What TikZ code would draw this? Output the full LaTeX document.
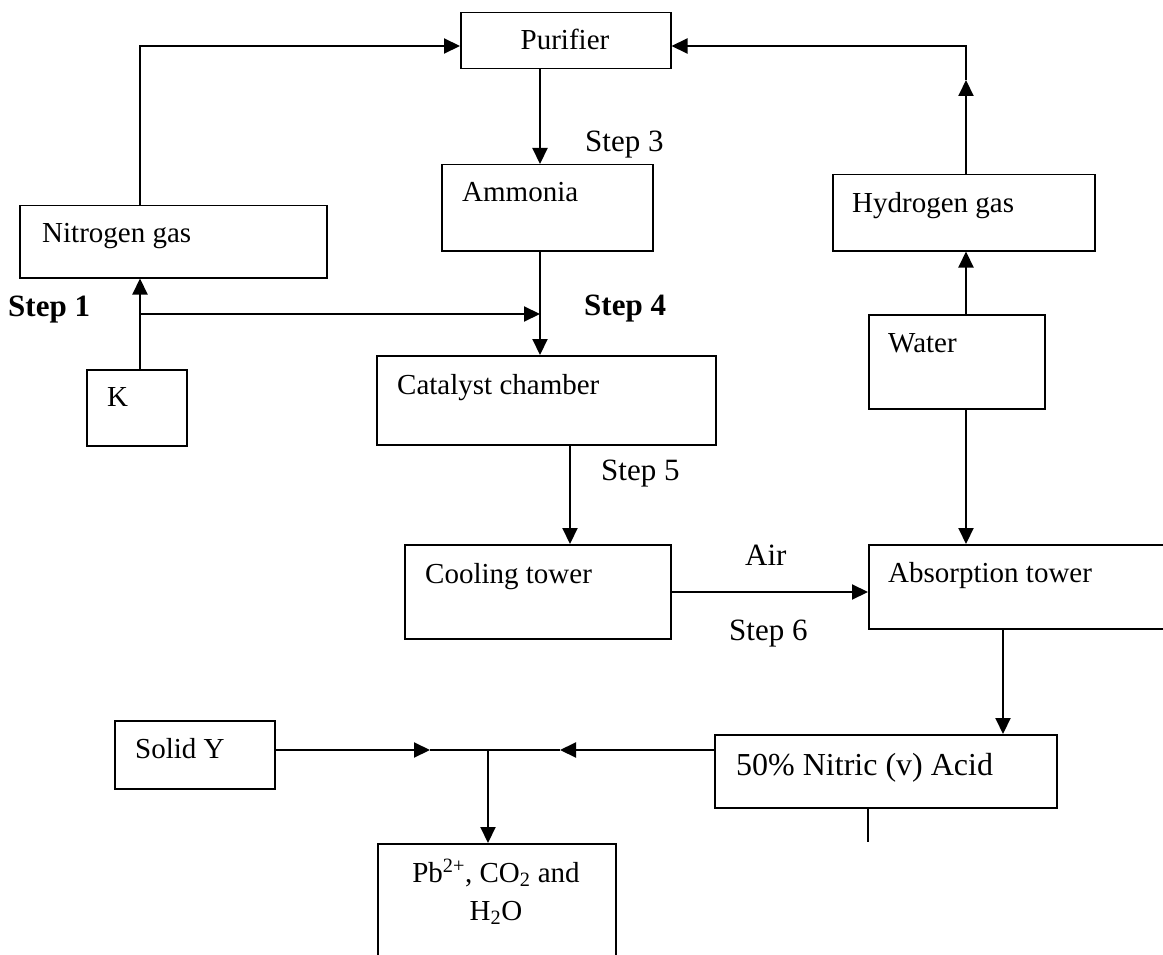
\documentclass[tikz,border=0pt]{standalone}
\usepackage{fontspec}
\setmainfont{Liberation Serif}
\usetikzlibrary{arrows.meta}
\tikzset{
  box/.style={draw, line width=1.5pt, rectangle, inner sep=0pt, anchor=north west},
  conn/.style={line width=2.1pt},
  arr/.style={conn, -{Triangle[length=16pt,width=15pt]}},
  lbl/.style={inner sep=0pt, anchor=base west, font=\fontsize{29}{34}\selectfont},
  steplbl/.style={inner sep=0pt, anchor=base west, font=\fontsize{31}{36}\selectfont},
  boldstep/.style={steplbl, font=\fontsize{31}{36}\selectfont\bfseries},
}
\begin{document}
\begin{tikzpicture}[x=1pt,y=-1pt]
\clip (0,0) rectangle (1163,955);
\fill[white] (0,0) rectangle (1163,955);
% boxes
\node[box, minimum width=210pt, minimum height=56pt] (pur) at (460,12) {};
\node[box, minimum width=211pt, minimum height=86pt] (amm) at (441,164) {};
\node[box, minimum width=307pt, minimum height=72pt] (nit) at (19,205) {};
\node[box, minimum width=262pt, minimum height=76pt] (hyd) at (832,174) {};
\node[box, minimum width=176pt, minimum height=94pt] (wat) at (868,314) {};
\node[box, minimum width=100pt, minimum height=76pt] (kbox) at (86,369) {};
\node[box, minimum width=339pt, minimum height=89pt] (cat) at (376,355) {};
\node[box, minimum width=266pt, minimum height=94pt] (cool) at (404,544) {};
\node[box, minimum width=320pt, minimum height=84pt] (abs) at (868,544) {};
\node[box, minimum width=342pt, minimum height=73pt] (nitr) at (714,734) {};
\node[box, minimum width=160pt, minimum height=68pt] (sol) at (114,720) {};
\node[box, minimum width=238pt, minimum height=140pt] (pb) at (377,843) {};
% box texts
\node[lbl, anchor=base] (purT) at (565,50) {Purifier};
\node[lbl] (ammT) at (462,202) {Ammonia};
\node[lbl] (nitT) at (42,242) {Nitrogen gas};
\node[lbl] (hydT) at (852,212) {Hydrogen gas};
\node[lbl] (watT) at (888,352) {Water};
\node[lbl] (kT) at (107,406) {K};
\node[lbl] (catT) at (397,394) {Catalyst chamber};
\node[lbl] (coolT) at (425,583) {Cooling tower};
\node[lbl] (absT) at (888,582) {Absorption tower};
\node[lbl, font=\fontsize{32}{38}\selectfont] (nitrT) at (736,775) {50\% Nitric (v) Acid};
\node[lbl] (solT) at (135,758) {Solid Y};
\node[lbl, anchor=base] (pbT1) at (496,882) {Pb\textsuperscript{2+}, CO\textsubscript{2} and};
\node[lbl, anchor=base] (pbT2) at (496,920) {H\textsubscript{2}O};
% step labels
\node[boldstep] (s1) at (8,316) {Step 1};
\node[steplbl] (s3) at (585,152) {Step 3};
\node[boldstep] (s4) at (584,315) {Step 4};
\node[steplbl] (s5) at (601,480) {Step 5};
\node[steplbl] (s6) at (729,640) {Step 6};
\node[steplbl] (air) at (745,565) {Air};
% coordinates
\coordinate (jL) at (140,46);
\coordinate (jR) at (966,46);
\coordinate (jRm) at (966,80);
\coordinate (xA) at (540,0);
\coordinate (jK) at (140,314);
\coordinate (xC) at (570,0);
\coordinate (yC) at (0,592);
\coordinate (xN) at (1003,0);
\coordinate (mL) at (430,750);
\coordinate (mR) at (560,750);
\coordinate (mC) at (488,750);
\coordinate (xS) at (868,842);
% connectors
\draw[arr] (nit.north -| jL) -- (jL) -- (jL -| pur.west);
\draw[arr] (hyd.north -| jR) -- (jRm);
\draw[arr] (jRm) -- (jR) -- (jR -| pur.east);
\draw[arr] (pur.south -| xA) -- (amm.north -| xA);
\draw[arr] (amm.south -| xA) -- (cat.north -| xA);
\draw[arr] (kbox.north -| jL) -- (nit.south -| jL);
\draw[arr] (jK) -- (jK -| xA);
\draw[arr] (cat.south -| xC) -- (cool.north -| xC);
\draw[arr] (cool.east |- yC) -- (abs.west |- yC);
\draw[arr] (wat.north -| jR) -- (hyd.south -| jR);
\draw[arr] (wat.south -| jR) -- (abs.north -| jR);
\draw[arr] (abs.south -| xN) -- (nitr.north -| xN);
\draw[arr] (sol.east |- mL) -- (mL);
\draw[arr] (nitr.west |- mR) -- (mR);
\draw[conn] (mL) -- (mR);
\draw[arr] (mC) -- (mC |- pb.north);
\draw[conn] (nitr.south -| xS) -- (xS);
\end{tikzpicture}
\end{document}
